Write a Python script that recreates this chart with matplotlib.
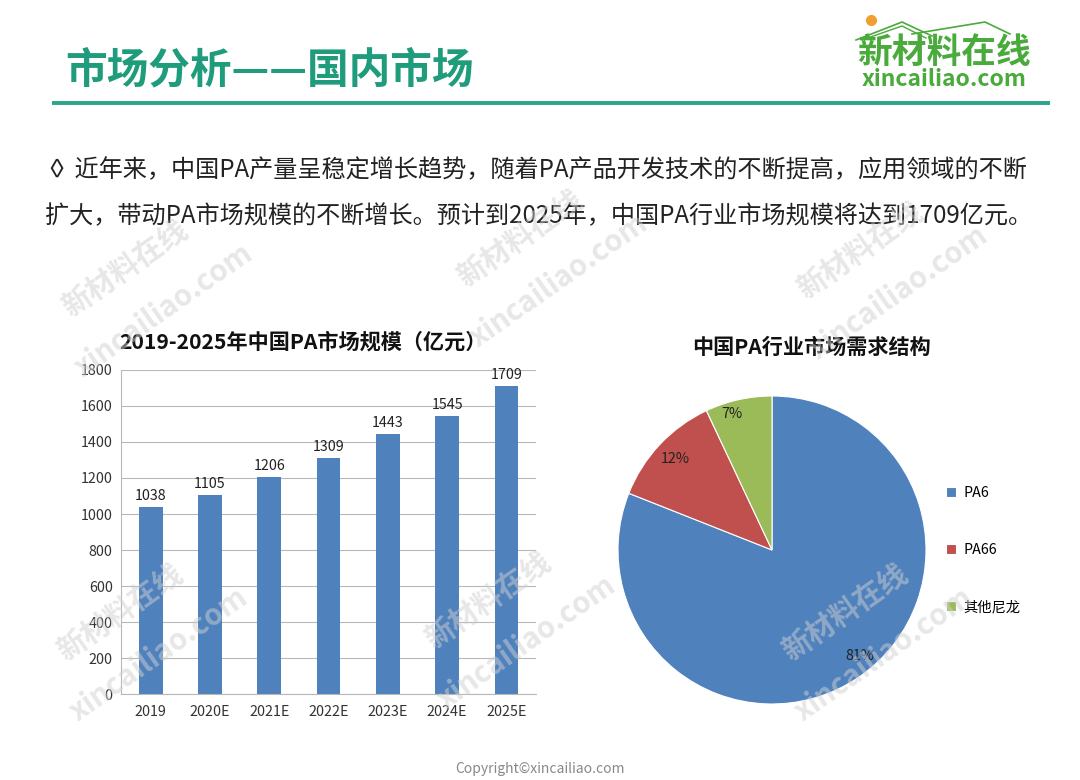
import matplotlib
matplotlib.use('Agg')
import matplotlib.pyplot as plt

plt.rcParams['font.family'] = ['Noto Sans CJK SC', 'DejaVu Sans']
plt.rcParams['axes.unicode_minus'] = False

# 数据
years = ['2019', '2020E', '2021E', '2022E', '2023E', '2024E', '2025E']
market_size = [1038, 1105, 1206, 1309, 1443, 1545, 1709]
y_ticks = [0, 200, 400, 600, 800, 1000, 1200, 1400, 1600, 1800]

pie_labels = ['PA6', 'PA66', '其他尼龙']
pie_share = [81, 12, 7]

BLUE = '#4f81bd'
pie_colors = ['#4f81bd', '#c0504d', '#9bbb59']
TEAL = '#1f9c7c'
LOGO_GREEN = '#4aaa3c'

fig = plt.figure(figsize=(10.8, 7.8), dpi=100)
fig.patch.set_facecolor('white')

# 整页坐标 (像素)
page = fig.add_axes([0, 0, 1, 1])
page.set_xlim(0, 1080)
page.set_ylim(780, 0)
page.axis('off')

# 标题
page.text(65, 70, '市场分析——国内市场', fontsize=30, fontweight='bold',
          color=TEAL, ha='left', va='center')
page.plot([52, 1050], [103, 103], color='#2ba58b', lw=2.8, solid_capstyle='butt')

# logo
page.plot([856, 902, 932], [40, 22, 36], color=LOGO_GREEN, lw=1.2)
page.plot([862, 902, 926], [40, 26, 38], color=LOGO_GREEN, lw=1.0)
page.plot([912, 985, 1010], [34, 22, 34], color=LOGO_GREEN, lw=1.2)
page.plot(871, 20, 'o', color='#f0a030', ms=7)
page.text(944, 52, '新材料在线', fontsize=25, fontweight='bold', color=LOGO_GREEN,
          ha='center', va='center')
page.text(944, 80, 'xincailiao.com', fontsize=16.5, fontweight='bold', color=LOGO_GREEN,
          ha='center', va='center')

# 正文
page.text(45, 170, '◊ 近年来，中国PA产量呈稳定增长趋势，随着PA产品开发技术的不断提高，应用领域的不断',
          fontsize=17.4, color='#222222', ha='left', va='center')
page.text(45, 216, '扩大，带动PA市场规模的不断增长。预计到2025年，中国PA行业市场规模将达到1709亿元。',
          fontsize=17.4, color='#222222', ha='left', va='center')

# 柱状图
ax = fig.add_axes([121 / 1080, 1 - 694 / 780, 415 / 1080, 324 / 780])
x = range(len(years))
bars = ax.bar(x, market_size, width=0.4, color=BLUE, zorder=2)
ax.set_xlim(-0.5, len(years) - 0.5)
ax.set_ylim(0, 1800)
ax.set_yticks(y_ticks)
ax.set_xticks(list(x))
ax.set_xticklabels(years)
ax.tick_params(axis='both', length=0, labelsize=10.3, colors='#333333')
ax.tick_params(axis='x', pad=8)
ax.tick_params(axis='y', pad=6)
ax.grid(axis='y', color='#b8b8b8', lw=0.8, zorder=0)
for s in ['top', 'right']:
    ax.spines[s].set_visible(False)
ax.spines['left'].set_color('#b8b8b8')
ax.spines['bottom'].set_color('#b8b8b8')
ax.bar_label(bars, labels=[str(v) for v in market_size], padding=3,
             fontsize=10.3, color='#222222')
page.text(303, 342, '2019-2025年中国PA市场规模（亿元）', fontsize=15.2,
          fontweight='bold', color='#111111', ha='center', va='center')

# 饼图
pax = fig.add_axes([(772 - 154) / 1080, 1 - (550 + 154) / 780, 308 / 1080, 308 / 780])
wedges, _, autotexts = pax.pie(pie_share, colors=pie_colors, startangle=90,
                               counterclock=False, autopct='%d%%', pctdistance=0.86,
                               wedgeprops=dict(edgecolor='white', linewidth=0.8),
                               textprops=dict(fontsize=10.3, color='#222222'))
pax.set_xlim(-1, 1)
pax.set_ylim(-1, 1)
# 标签位置微调 (Excel最佳匹配)
autotexts[0].set_position((0.57, -0.69))
autotexts[2].set_position((-0.26, 0.88))
page.text(812, 347, '中国PA行业市场需求结构', fontsize=15.2, fontweight='bold',
          color='#111111', ha='center', va='center')
pax.legend(wedges, pie_labels, loc='center left',
           bbox_to_anchor=(933 / 1080, 1 - 550 / 780), bbox_transform=fig.transFigure,
           frameon=False, fontsize=10.3, handlelength=0.7, handleheight=0.7,
           handletextpad=0.5, labelspacing=3.0)

# 水印 (最上层)
wm = fig.add_axes([0, 0, 1, 1])
wm.set_xlim(0, 1080)
wm.set_ylim(780, 0)
wm.axis('off')
marks = [(125, 268), (520, 238), (860, 250), (120, 612), (488, 600), (845, 612)]
for cx, cy in marks:
    wm.text(cx, cy, '新材料在线', fontsize=21, fontweight='bold', color='#d0d0d0',
            alpha=0.5, rotation=35, ha='center', va='center', rotation_mode='anchor')
    wm.text(cx + 38, cy + 42, 'xincailiao.com', fontsize=21, fontweight='bold',
            color='#d0d0d0', alpha=0.5, rotation=35, ha='center', va='center',
            rotation_mode='anchor')

page.text(540, 769, 'Copyright©xincailiao.com', fontsize=10, color='#888888',
          ha='center', va='center')

fig.savefig('out.png', dpi=100, facecolor='white')
